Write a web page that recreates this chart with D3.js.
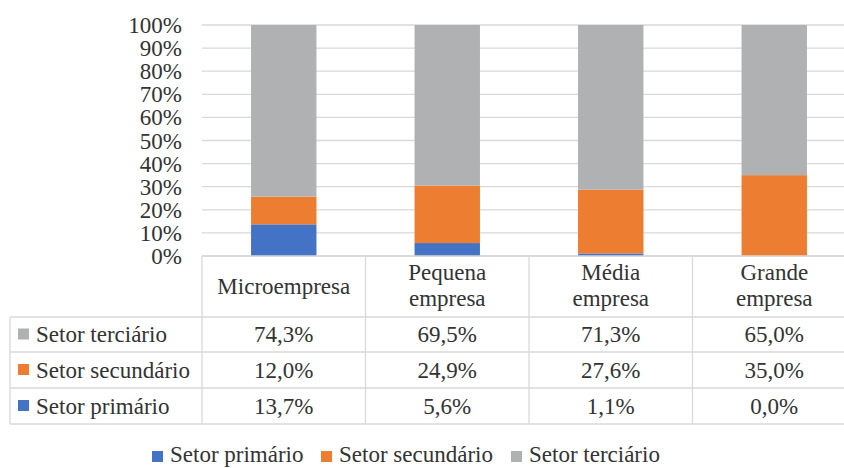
<!DOCTYPE html>
<html>
<head>
<meta charset="utf-8">
<script src="https://cdn.jsdelivr.net/npm/d3@7"></script>
<style>
  svg text, svg tspan { font-family: 'Liberation Serif', serif !important; }
</style>
</head>
<body style="margin:0">
<svg id="chart" width="844" height="468" font-family="Liberation Serif, serif"></svg>
<script>
const categories = ["Microempresa", "Pequena empresa", "Média empresa", "Grande empresa"];
const seriesNames = ["Setor primário", "Setor secundário", "Setor terciário"];
const primario = [13.7, 5.6, 1.1, 0.0];
const secundario = [12.0, 24.9, 27.6, 35.0];
const terciario = [74.3, 69.5, 71.3, 65.0];
const yTicks = [0, 10, 20, 30, 40, 50, 60, 70, 80, 90, 100];
const colors = ["#4472C4", "#ED7D31", "#B0B1B3"];

const seriesValues = [primario, secundario, terciario];
const svg = d3.select("#chart");
const fs = 23;
const gridColor = "#d9d9d9";
const textColor = "#333333";

const plotLeft = 202, plotRight = 856, plotTop = 25, plotBottom = 256;
const x = d3.scaleBand().domain(categories).range([plotLeft, plotRight]).padding(0);
const y = d3.scaleLinear().domain([0, 100]).range([plotBottom, plotTop]);
const barW = x.bandwidth() * 0.4;

function styleText(sel) {
  return sel.attr("font-family", "Liberation Serif, serif")
    .attr("style", "font-family: 'Liberation Serif', serif !important")
    .attr("font-size", fs).attr("fill", textColor);
}

// gridlines
svg.append("g").selectAll("line").data(yTicks).join("line")
  .attr("x1", plotLeft).attr("x2", plotRight)
  .attr("y1", d => y(d)).attr("y2", d => y(d))
  .attr("stroke", gridColor).attr("stroke-width", 1.3);

// y axis labels
const yAxis = d3.axisLeft(y).tickValues(yTicks).tickSize(0).tickPadding(0)
  .tickFormat(d => d + "%");
const yg = svg.append("g").attr("transform", "translate(182,0)").call(yAxis);
yg.attr("font-family", "Liberation Serif, serif").attr("font-size", fs);
yg.select(".domain").remove();
styleText(yg.selectAll("text")).attr("dy", "0.33em");

// stacked bars
const rows = categories.map((c, i) => {
  const o = { cat: c };
  seriesNames.forEach((s, j) => o[s] = seriesValues[j][i]);
  return o;
});
const stack = d3.stack().keys(seriesNames)(rows);
svg.append("g").selectAll("g").data(stack).join("g")
  .attr("fill", (d, i) => colors[i])
  .selectAll("rect").data(d => d).join("rect")
  .attr("x", d => x(d.data.cat) + (x.bandwidth() - barW) / 2)
  .attr("width", barW)
  .attr("y", d => y(d[1]))
  .attr("height", d => Math.max(0, y(d[0]) - y(d[1])));

// data table
const tableLeft = 10;
const headerBottom = 317;
const rowLines = [317, 352, 388, 424];
const tg = svg.append("g");
tg.append("line").attr("x1", plotLeft).attr("x2", plotRight).attr("y1", plotBottom).attr("y2", plotBottom)
  .attr("stroke", gridColor).attr("stroke-width", 1.3);
tg.selectAll("line.row").data(rowLines).join("line").attr("class", "row")
  .attr("x1", tableLeft).attr("x2", plotRight)
  .attr("y1", d => d).attr("y2", d => d)
  .attr("stroke", gridColor).attr("stroke-width", 1.3);
const colEdges = categories.map(c => x(c)).concat([plotRight]);
tg.selectAll("line.col").data(colEdges).join("line").attr("class", "col")
  .attr("x1", d => d).attr("x2", d => d)
  .attr("y1", plotBottom).attr("y2", rowLines[rowLines.length - 1])
  .attr("stroke", gridColor).attr("stroke-width", 1.3);
tg.append("line").attr("x1", tableLeft).attr("x2", tableLeft)
  .attr("y1", headerBottom).attr("y2", rowLines[rowLines.length - 1])
  .attr("stroke", gridColor).attr("stroke-width", 1.3);

// header labels
categories.forEach(c => {
  const words = c.split(" ");
  const cx = x(c) + x.bandwidth() / 2;
  const t = styleText(tg.append("text").attr("text-anchor", "middle"));
  if (words.length === 1) {
    t.append("tspan").attr("x", cx).attr("y", 294).text(words[0]);
  } else {
    t.append("tspan").attr("x", cx).attr("y", 280).text(words[0]);
    t.append("tspan").attr("x", cx).attr("y", 306).text(words.slice(1).join(" "));
  }
});

// table rows: terciário, secundário, primário
const fmtLocale = d3.formatLocale({ decimal: ",", thousands: ".", grouping: [3], currency: ["", ""] });
const fmt = fmtLocale.format(".1f");
const tableOrder = [2, 1, 0];
tableOrder.forEach((si, r) => {
  const top = rowLines[r], bottom = rowLines[r + 1];
  const mid = (top + bottom) / 2;
  tg.append("rect").attr("x", 18).attr("y", mid - 6).attr("width", 11).attr("height", 11)
    .attr("fill", colors[si]);
  styleText(tg.append("text").attr("x", 36).attr("y", mid).attr("dy", "0.33em")).text(seriesNames[si]);
  categories.forEach((c, i) => {
    styleText(tg.append("text").attr("x", x(c) + x.bandwidth() / 2).attr("y", mid).attr("dy", "0.33em")
      .attr("text-anchor", "middle"))
      .text(fmt(seriesValues[si][i]) + "%");
  });
});

// legend
const legendX = [152, 321, 511];
const lg = svg.append("g");
seriesNames.forEach((s, i) => {
  lg.append("rect").attr("x", legendX[i]).attr("y", 451).attr("width", 11).attr("height", 11)
    .attr("fill", colors[i]);
  styleText(lg.append("text").attr("x", legendX[i] + 18).attr("y", 462)).text(s);
});
</script>
</body>
</html>
